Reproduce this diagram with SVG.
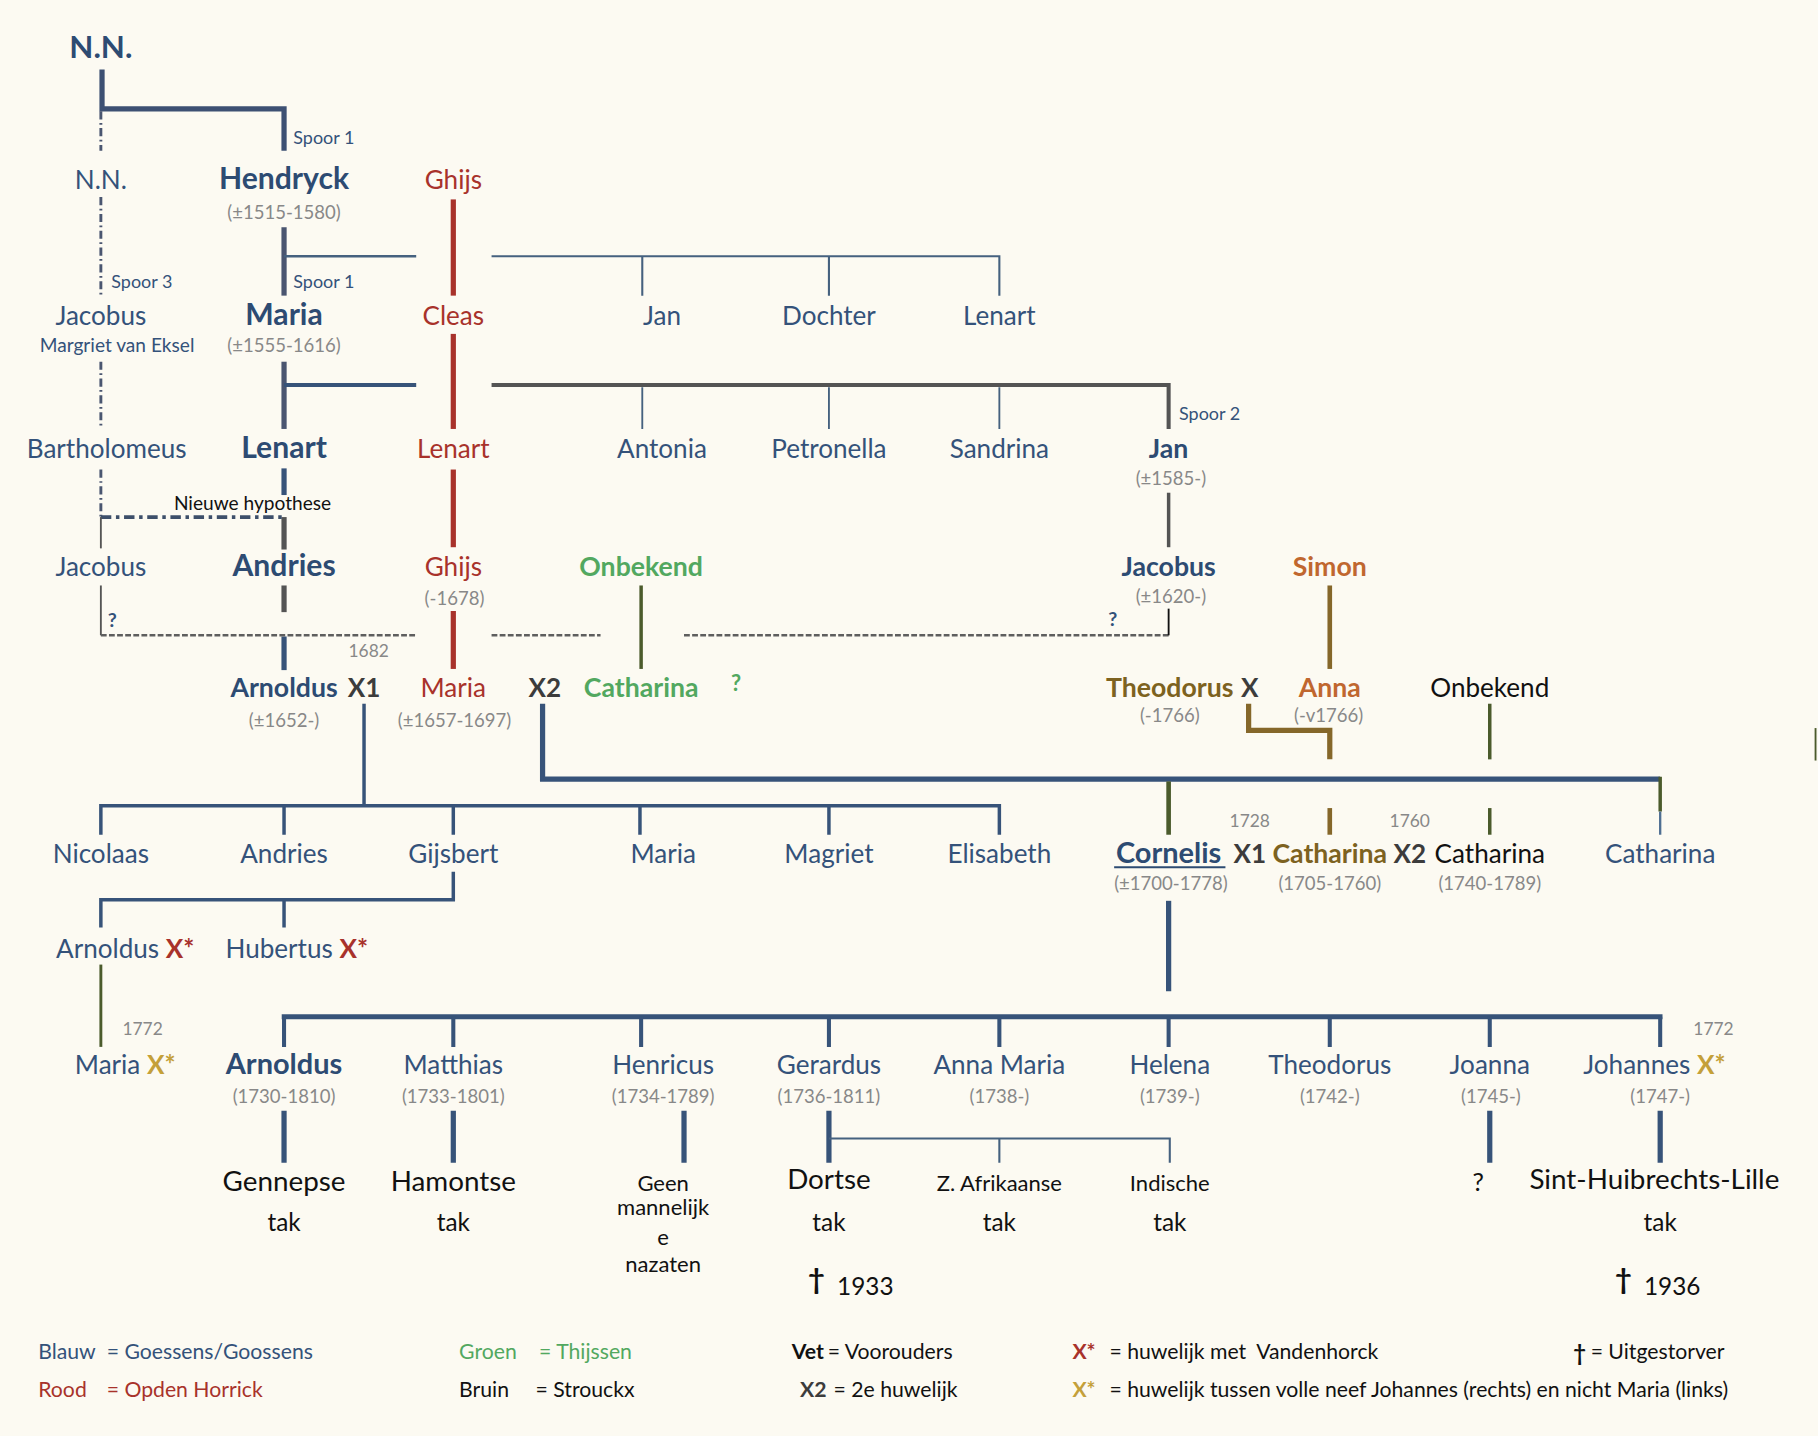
<svg xmlns="http://www.w3.org/2000/svg" width="1818" height="1436" viewBox="0 0 1818 1436">
<defs>
<style>
text{font-family:Lato,"Liberation Sans",sans-serif;}
.n{font-size:22.5px;fill:#34527a;text-anchor:middle}
.b{font-weight:bold;font-size:26px;fill:#2d4b72}
.r{fill:#a8322b}
.gr{fill:#52a860}
.br{fill:#7d6220}
.or{fill:#c0672f}
.k{fill:#111}
.dk{fill:#3c3c3c;font-weight:bold}
.au{fill:#c4a03a;font-weight:bold}
.xr{fill:#a8322b;font-weight:bold}
.d{font-size:16px;fill:#888;text-anchor:middle}
.sp{font-size:15.5px;fill:#34527a}
.y{font-size:15px;fill:#888;text-anchor:middle}
.bt{font-size:24px;fill:#111;text-anchor:middle}
.st{font-size:19px;fill:#111;text-anchor:middle}
.lg{font-size:18.3px}
.q{font-weight:bold;font-size:17px;fill:#34527a}
line,path{fill:none}
.L{stroke:#375379;stroke-width:4.5}
.M{stroke:#375379;stroke-width:3}
.T{stroke:#45617f;stroke-width:1.6}
.G{stroke:#545454;stroke-width:4.5}
.R{stroke:#a8322b;stroke-width:4.5}
.O{stroke:#4b5b2c;stroke-width:3.5}
.B{stroke:#85672a;stroke-width:4.5}
.dd{stroke:#4a5670;stroke-width:2.5;stroke-dasharray:7 3 1.5 3}
.dh{stroke:#5e5e5e;stroke-width:2.2;stroke-dasharray:5 2}
</style>
</defs>
<rect width="1818" height="1436" fill="#fcfaf2"/>
<g transform="scale(1.15935)">
<g id="connectors">
<path class="L" d="M88,60 V94 H245 V130" style="stroke:#3d5073"/>
<line class="dd" x1="87" y1="96" x2="87" y2="130"/>
<line class="dd" x1="87" y1="170" x2="87" y2="255"/>
<line class="dd" x1="87" y1="312" x2="87" y2="370"/>
<line class="dd" x1="87" y1="405" x2="87" y2="446"/>
<line class="L" x1="245" y1="196" x2="245" y2="255" style="stroke:#4a5570"/>
<line class="L" x1="245" y1="312" x2="245" y2="370" style="stroke:#4a5570"/>
<line class="L" x1="245" y1="404" x2="245" y2="427"/>
<line class="G" x1="245" y1="446" x2="245" y2="474"/>
<line class="G" x1="245" y1="505" x2="245" y2="528"/>
<line class="L" x1="245" y1="549" x2="245" y2="578"/>
<line class="T" x1="245" y1="221" x2="359" y2="221" style="stroke-width:2"/>
<path class="T" d="M424,221 H862 V255 M554,221 V255 M715,221 V255" style="stroke-width:1.8"/>
<line class="M" x1="245" y1="332" x2="359" y2="332" style="stroke-width:3.5"/>
<path class="G" d="M424,332 H1008 V370" style="stroke-width:3.5"/>
<path class="T" d="M554,334 V370 M715,334 V370 M862,334 V370"/>
<line class="R" x1="391" y1="172" x2="391" y2="255"/>
<line class="R" x1="391" y1="288" x2="391" y2="370"/>
<line class="R" x1="391" y1="405" x2="391" y2="472"/>
<line class="R" x1="391" y1="527" x2="391" y2="577"/>
<line class="G" x1="1008" y1="425" x2="1008" y2="472" style="stroke-width:3"/>
<line x1="87" y1="446" x2="243" y2="446" style="stroke:#3d4f6a;stroke-width:3.2;stroke-dasharray:9 4 3 4"/>
<line x1="87" y1="446" x2="87" y2="473" style="stroke:#555;stroke-width:1.6"/>
<line x1="87" y1="505" x2="87" y2="548" style="stroke:#555;stroke-width:1.6"/>
<line class="dh" x1="87" y1="548" x2="359" y2="548"/>
<line class="dh" x1="424" y1="548" x2="518" y2="548"/>
<line class="dh" x1="590" y1="548" x2="1008" y2="548"/>
<line x1="1008" y1="525" x2="1008" y2="548" style="stroke:#111;stroke-width:1.6"/>
<line class="O" x1="553" y1="505" x2="553" y2="577" style="stroke-width:3"/>
<line class="B" x1="1147" y1="505" x2="1147" y2="577" style="stroke-width:4"/>
<line class="M" x1="314" y1="607" x2="314" y2="695"/>
<path class="L" d="M468,607 V672 H1432"/>
<line class="O" x1="1432" y1="670" x2="1432" y2="700" style="stroke-width:3"/>
<line x1="1432" y1="700" x2="1432" y2="720" style="stroke:#4e6e92;stroke-width:2"/>
<line class="O" x1="1008" y1="674" x2="1008" y2="720" style="stroke-width:4"/>
<path class="B" d="M1077,607 V630 H1147 V655"/>
<line class="O" x1="1285" y1="607" x2="1285" y2="655" style="stroke-width:3"/>
<line class="B" x1="1147" y1="697" x2="1147" y2="720" style="stroke-width:4"/>
<line class="O" x1="1285" y1="697" x2="1285" y2="720" style="stroke-width:3"/>
<line class="O" x1="1566" y1="628" x2="1566" y2="656" style="stroke-width:1.6"/>
<path class="M" d="M87,720 V695 H862 V720 M245,695 V720 M391,695 V720 M552,695 V720 M715,695 V720"/>
<path class="M" d="M391,752 V776 H87 V800 M245,776 V800"/>
<line class="O" x1="87" y1="832" x2="87" y2="903" style="stroke-width:2.5"/>
<line class="L" x1="1008" y1="777" x2="1008" y2="855"/>
<line class="L" x1="243" y1="877" x2="1434" y2="877"/>
<path class="M" d="M245,877 V903 M391,877 V903 M553,877 V903 M715,877 V903 M862,877 V903 M1008,877 V903 M1147,877 V903 M1285,877 V903 M1432,877 V903" style="stroke-width:3.5"/>
<path class="L" d="M245,958 V1003 M391,958 V1003 M590,958 V1003 M715,958 V1003 M1285,958 V1003 M1432,958 V1003"/>
<path class="T" d="M715,982 H1009 V1003 M862,982 V1003" style="stroke-width:1.8"/>
</g>

<g id="nn-top"><text class="n b" x="87" y="50" style="font-size:27px">N.N.</text></g>
<g id="labels-spoor">
<text class="sp" x="253" y="124">Spoor 1</text>
<text class="sp" x="253" y="248">Spoor 1</text>
<text class="sp" x="96" y="248">Spoor 3</text>
<text class="sp" x="1017" y="362">Spoor 2</text>
</g>
<g id="nn"><text class="n" x="87" y="163">N.N.</text></g>
<g id="hendryck"><text class="n b" x="245" y="163">Hendryck</text><text class="d" x="245" y="189">(±1515-1580)</text></g>
<g id="ghijs1"><text class="n r" x="391" y="163">Ghijs</text></g>
<g id="jacobus1"><text class="n" x="87" y="280">Jacobus</text><text class="n" x="101" y="304" style="font-size:16.5px">Margriet van Eksel</text></g>
<g id="maria1"><text class="n b" x="245" y="280">Maria</text><text class="d" x="245" y="304">(±1555-1616)</text></g>
<g id="cleas"><text class="n r" x="391" y="280">Cleas</text></g>
<g id="jan1"><text class="n" x="571" y="280">Jan</text></g>
<g id="dochter"><text class="n" x="715" y="280">Dochter</text></g>
<g id="lenart1"><text class="n" x="862" y="280">Lenart</text></g>
<g id="bartholomeus"><text class="n" x="92" y="395">Bartholomeus</text></g>
<g id="lenart2"><text class="n b" x="245" y="395">Lenart</text></g>
<g id="lenart3"><text class="n r" x="391" y="395">Lenart</text></g>
<g id="antonia"><text class="n" x="571" y="395">Antonia</text></g>
<g id="petronella"><text class="n" x="715" y="395">Petronella</text></g>
<g id="sandrina"><text class="n" x="862" y="395">Sandrina</text></g>
<g id="jan2"><text class="n b" x="1008" y="395" style="font-size:23px">Jan</text><text class="d" x="1010" y="418">(±1585-)</text></g>
<g id="hypothese"><text class="k" x="150" y="440" style="font-size:16.5px">Nieuwe hypothese</text></g>
<g id="jacobus2"><text class="n" x="87" y="497">Jacobus</text><text class="q" x="93" y="541">?</text></g>
<g id="andries1"><text class="n b" x="245" y="497">Andries</text></g>
<g id="ghijs2"><text class="n r" x="391" y="497">Ghijs</text><text class="d" x="392" y="522">(-1678)</text></g>
<g id="onbekend1"><text class="n b gr" x="553" y="497" style="font-size:23px">Onbekend</text></g>
<g id="jacobus3"><text class="n b" x="1008" y="497" style="font-size:23px">Jacobus</text><text class="d" x="1010" y="520">(±1620-)</text><text class="q" x="956" y="540">?</text></g>
<g id="simon"><text class="n b or" x="1147" y="497" style="font-size:23px">Simon</text></g>
<g id="y1682"><text class="y" x="318" y="567">1682</text></g>
<g id="arnoldus1"><text class="n b" x="245" y="601" style="font-size:23px">Arnoldus</text><text class="n dk" x="314" y="601">X1</text><text class="d" x="245" y="627">(±1652-)</text></g>
<g id="maria2"><text class="n r" x="391" y="601">Maria</text><text class="d" x="392" y="627">(±1657-1697)</text></g>
<g id="x2a"><text class="n dk" x="470" y="601">X2</text></g>
<g id="catharina1"><text class="n b gr" x="553" y="601" style="font-size:23px">Catharina</text><text class="n b gr" x="635" y="596" style="font-size:19px">?</text></g>
<g id="theodorus1"><text class="n b br" x="1009" y="601" style="font-size:23px">Theodorus</text><text class="n dk" x="1078" y="601">X</text><text class="d" x="1009" y="623">(-1766)</text></g>
<g id="anna"><text class="n b or" x="1147" y="601" style="font-size:23px">Anna</text><text class="d" x="1146" y="623">(-v1766)</text></g>
<g id="onbekend2"><text class="n k" x="1285" y="601">Onbekend</text></g>
<g id="nicolaas"><text class="n" x="87" y="744">Nicolaas</text></g>
<g id="andries2"><text class="n" x="245" y="744">Andries</text></g>
<g id="gijsbert"><text class="n" x="391" y="744">Gijsbert</text></g>
<g id="maria3"><text class="n" x="572" y="744">Maria</text></g>
<g id="magriet"><text class="n" x="715" y="744">Magriet</text></g>
<g id="elisabeth"><text class="n" x="862" y="744">Elisabeth</text></g>
<g id="cornelis"><text class="n b" x="1008" y="744" style="font-size:25px">Cornelis</text><line x1="961" y1="748" x2="1057" y2="748" style="stroke:#2d4b72;stroke-width:1.8"/><text class="n dk" x="1078" y="744">X1</text><text class="d" x="1010" y="768">(±1700-1778)</text><text class="y" x="1078" y="713">1728</text></g>
<g id="catharina2"><text class="n b br" x="1147" y="744" style="font-size:23px">Catharina</text><text class="n dk" x="1216" y="744">X2</text><text class="d" x="1147" y="768">(1705-1760)</text><text class="y" x="1216" y="713">1760</text></g>
<g id="catharina3"><text class="n k" x="1285" y="744">Catharina</text><text class="d" x="1285" y="768">(1740-1789)</text></g>
<g id="catharina4"><text class="n" x="1432" y="744">Catharina</text></g>
<g id="arnoldus2"><text class="n" x="108" y="826">Arnoldus <tspan class="xr">X*</tspan></text></g>
<g id="hubertus"><text class="n" x="256" y="826">Hubertus <tspan class="xr">X*</tspan></text></g>
<g id="y1772a"><text class="y" x="123" y="893">1772</text></g>
<g id="maria4"><text class="n" x="108" y="926">Maria <tspan class="au">X*</tspan></text></g>
<g id="arnoldus3"><text class="n b" x="245" y="926" style="font-size:25px">Arnoldus</text><text class="d" x="245" y="951">(1730-1810)</text></g>
<g id="matthias"><text class="n" x="391" y="926">Matthias</text><text class="d" x="391" y="951">(1733-1801)</text></g>
<g id="henricus"><text class="n" x="572" y="926">Henricus</text><text class="d" x="572" y="951">(1734-1789)</text></g>
<g id="gerardus"><text class="n" x="715" y="926">Gerardus</text><text class="d" x="715" y="951">(1736-1811)</text></g>
<g id="annamaria"><text class="n" x="862" y="926">Anna Maria</text><text class="d" x="862" y="951">(1738-)</text></g>
<g id="helena"><text class="n" x="1009" y="926">Helena</text><text class="d" x="1009" y="951">(1739-)</text></g>
<g id="theodorus2"><text class="n" x="1147" y="926">Theodorus</text><text class="d" x="1147" y="951">(1742-)</text></g>
<g id="joanna"><text class="n" x="1285" y="926">Joanna</text><text class="d" x="1286" y="951">(1745-)</text></g>
<g id="johannes"><text class="n" x="1427" y="926">Johannes <tspan class="au">X*</tspan></text><text class="d" x="1432" y="951">(1747-)</text><text class="y" x="1478" y="893">1772</text></g>
<g id="gennepse"><text class="bt" x="245" y="1027">Gennepse</text><text class="st" x="245" y="1062" style="font-size:21px">tak</text></g>
<g id="hamontse"><text class="bt" x="391" y="1027">Hamontse</text><text class="st" x="391" y="1062" style="font-size:21px">tak</text></g>
<g id="geen"><text class="st" x="572" y="1027">Geen</text><text class="st" x="572" y="1048">mannelijk</text><text class="st" x="572" y="1074">e</text><text class="st" x="572" y="1097">nazaten</text></g>
<g id="dortse"><text class="bt" x="715" y="1026">Dortse</text><text class="st" x="715" y="1062" style="font-size:21px">tak</text><text class="k" x="697" y="1112" style="font-size:25px;font-weight:bold">†</text><text class="k" x="722" y="1117" style="font-size:21px">1933</text></g>
<g id="zafrikaanse"><text class="st" x="862" y="1027">Z. Afrikaanse</text><text class="st" x="862" y="1062" style="font-size:21px">tak</text></g>
<g id="indische"><text class="st" x="1009" y="1027">Indische</text><text class="st" x="1009" y="1062" style="font-size:21px">tak</text></g>
<g id="onbekend3"><text class="bt" x="1275" y="1027" style="font-size:22px">?</text></g>
<g id="sinthuibrechts"><text class="bt" x="1427" y="1026">Sint-Huibrechts-Lille</text><text class="st" x="1432" y="1062" style="font-size:21px">tak</text><text class="k" x="1393" y="1112" style="font-size:25px;font-weight:bold">†</text><text class="k" x="1418" y="1117" style="font-size:21px">1936</text></g>
<g id="legend">
<text class="lg" x="33" y="1172" style="fill:#34527a">Blauw</text><text class="lg" x="92" y="1172" style="fill:#34527a">= Goessens/Goossens</text>
<text class="lg" x="33" y="1205" style="fill:#a8322b">Rood</text><text class="lg" x="92" y="1205" style="fill:#a8322b">= Opden Horrick</text>
<text class="lg" x="396" y="1172" style="fill:#52a860">Groen</text><text class="lg" x="465" y="1172" style="fill:#52a860">= Thijssen</text>
<text class="lg k" x="396" y="1205">Bruin</text><text class="lg k" x="462" y="1205">= Strouckx</text>
<text class="lg k" x="683" y="1172" style="font-weight:bold">Vet</text><text class="lg k" x="714" y="1172">= Voorouders</text>
<text class="lg dk" x="690" y="1205">X2</text><text class="lg k" x="719" y="1205">= 2e huwelijk</text>
<text class="lg xr" x="925" y="1172">X*</text><text class="lg k" x="957" y="1172">= huwelijk met&#160; Vandenhorck</text>
<text class="lg au" x="925" y="1205">X*</text><text class="lg k" x="957" y="1205">= huwelijk tussen volle neef Johannes (rechts) en nicht Maria (links)</text>
<text class="lg k" x="1357" y="1174" style="font-weight:bold;font-size:19px">†</text><text class="lg k" x="1372" y="1172">= Uitgestorver</text>
</g>
</g>
</svg>
